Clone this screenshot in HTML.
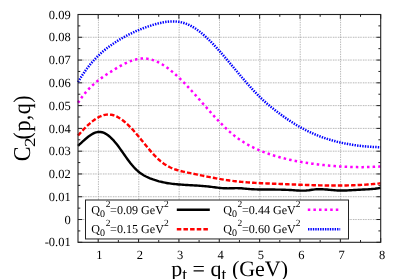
<!DOCTYPE html>
<html><head><meta charset="utf-8"><style>
html,body{margin:0;padding:0;background:#fff;}
svg{display:block;will-change:transform;}
text{font-family:"Liberation Serif",serif;fill:#000;text-rendering:geometricPrecision;}
.gh{stroke:#9a9a9a;stroke-width:0.7;stroke-dasharray:1.3 0.55 0.9 0.55 0.9 0.8;}
.gv{stroke:#9a9a9a;stroke-width:0.7;stroke-dasharray:1.4 1.05;}
.t{stroke:#222;stroke-width:1;}
.tl{font-size:12.5px;}
.lg{font-size:12.1px;}

</style></head><body>
<svg width="399" height="279" viewBox="0 0 399 279">
<rect width="399" height="279" fill="#fff"/>
<line x1="98.43" y1="14.50" x2="98.43" y2="242.30" class="gv"/>
<line x1="138.79" y1="14.50" x2="138.79" y2="242.30" class="gv"/>
<line x1="179.15" y1="14.50" x2="179.15" y2="242.30" class="gv"/>
<line x1="219.51" y1="14.50" x2="219.51" y2="242.30" class="gv"/>
<line x1="259.87" y1="14.50" x2="259.87" y2="242.30" class="gv"/>
<line x1="300.23" y1="14.50" x2="300.23" y2="242.30" class="gv"/>
<line x1="340.59" y1="14.50" x2="340.59" y2="242.30" class="gv"/>
<line x1="78.00" y1="37.28" x2="380.70" y2="37.28" class="gh"/>
<line x1="78.00" y1="60.06" x2="380.70" y2="60.06" class="gh"/>
<line x1="78.00" y1="82.84" x2="380.70" y2="82.84" class="gh"/>
<line x1="78.00" y1="105.62" x2="380.70" y2="105.62" class="gh"/>
<line x1="78.00" y1="128.40" x2="380.70" y2="128.40" class="gh"/>
<line x1="78.00" y1="151.18" x2="380.70" y2="151.18" class="gh"/>
<line x1="78.00" y1="173.96" x2="380.70" y2="173.96" class="gh"/>
<line x1="78.00" y1="196.74" x2="380.70" y2="196.74" class="gh"/>
<line x1="78.00" y1="219.52" x2="380.70" y2="219.52" class="gh"/>
<line x1="98.18" y1="242.30" x2="98.18" y2="238.00" class="t"/>
<line x1="98.18" y1="14.50" x2="98.18" y2="18.80" class="t"/>
<line x1="138.54" y1="242.30" x2="138.54" y2="238.00" class="t"/>
<line x1="138.54" y1="14.50" x2="138.54" y2="18.80" class="t"/>
<line x1="178.90" y1="242.30" x2="178.90" y2="238.00" class="t"/>
<line x1="178.90" y1="14.50" x2="178.90" y2="18.80" class="t"/>
<line x1="219.26" y1="242.30" x2="219.26" y2="238.00" class="t"/>
<line x1="219.26" y1="14.50" x2="219.26" y2="18.80" class="t"/>
<line x1="259.62" y1="242.30" x2="259.62" y2="238.00" class="t"/>
<line x1="259.62" y1="14.50" x2="259.62" y2="18.80" class="t"/>
<line x1="299.98" y1="242.30" x2="299.98" y2="238.00" class="t"/>
<line x1="299.98" y1="14.50" x2="299.98" y2="18.80" class="t"/>
<line x1="340.34" y1="242.30" x2="340.34" y2="238.00" class="t"/>
<line x1="340.34" y1="14.50" x2="340.34" y2="18.80" class="t"/>
<line x1="380.70" y1="242.30" x2="380.70" y2="238.00" class="t"/>
<line x1="380.70" y1="14.50" x2="380.70" y2="18.80" class="t"/>
<line x1="118.36" y1="242.30" x2="118.36" y2="240.00" class="t"/>
<line x1="118.36" y1="14.50" x2="118.36" y2="16.80" class="t"/>
<line x1="158.72" y1="242.30" x2="158.72" y2="240.00" class="t"/>
<line x1="158.72" y1="14.50" x2="158.72" y2="16.80" class="t"/>
<line x1="199.08" y1="242.30" x2="199.08" y2="240.00" class="t"/>
<line x1="199.08" y1="14.50" x2="199.08" y2="16.80" class="t"/>
<line x1="239.44" y1="242.30" x2="239.44" y2="240.00" class="t"/>
<line x1="239.44" y1="14.50" x2="239.44" y2="16.80" class="t"/>
<line x1="279.80" y1="242.30" x2="279.80" y2="240.00" class="t"/>
<line x1="279.80" y1="14.50" x2="279.80" y2="16.80" class="t"/>
<line x1="320.16" y1="242.30" x2="320.16" y2="240.00" class="t"/>
<line x1="320.16" y1="14.50" x2="320.16" y2="16.80" class="t"/>
<line x1="360.52" y1="242.30" x2="360.52" y2="240.00" class="t"/>
<line x1="360.52" y1="14.50" x2="360.52" y2="16.80" class="t"/>
<line x1="78.00" y1="14.50" x2="82.30" y2="14.50" class="t"/>
<line x1="380.70" y1="14.50" x2="376.40" y2="14.50" class="t"/>
<line x1="78.00" y1="25.89" x2="80.30" y2="25.89" class="t"/>
<line x1="380.70" y1="25.89" x2="378.40" y2="25.89" class="t"/>
<line x1="78.00" y1="37.28" x2="82.30" y2="37.28" class="t"/>
<line x1="380.70" y1="37.28" x2="376.40" y2="37.28" class="t"/>
<line x1="78.00" y1="48.67" x2="80.30" y2="48.67" class="t"/>
<line x1="380.70" y1="48.67" x2="378.40" y2="48.67" class="t"/>
<line x1="78.00" y1="60.06" x2="82.30" y2="60.06" class="t"/>
<line x1="380.70" y1="60.06" x2="376.40" y2="60.06" class="t"/>
<line x1="78.00" y1="71.45" x2="80.30" y2="71.45" class="t"/>
<line x1="380.70" y1="71.45" x2="378.40" y2="71.45" class="t"/>
<line x1="78.00" y1="82.84" x2="82.30" y2="82.84" class="t"/>
<line x1="380.70" y1="82.84" x2="376.40" y2="82.84" class="t"/>
<line x1="78.00" y1="94.23" x2="80.30" y2="94.23" class="t"/>
<line x1="380.70" y1="94.23" x2="378.40" y2="94.23" class="t"/>
<line x1="78.00" y1="105.62" x2="82.30" y2="105.62" class="t"/>
<line x1="380.70" y1="105.62" x2="376.40" y2="105.62" class="t"/>
<line x1="78.00" y1="117.01" x2="80.30" y2="117.01" class="t"/>
<line x1="380.70" y1="117.01" x2="378.40" y2="117.01" class="t"/>
<line x1="78.00" y1="128.40" x2="82.30" y2="128.40" class="t"/>
<line x1="380.70" y1="128.40" x2="376.40" y2="128.40" class="t"/>
<line x1="78.00" y1="139.79" x2="80.30" y2="139.79" class="t"/>
<line x1="380.70" y1="139.79" x2="378.40" y2="139.79" class="t"/>
<line x1="78.00" y1="151.18" x2="82.30" y2="151.18" class="t"/>
<line x1="380.70" y1="151.18" x2="376.40" y2="151.18" class="t"/>
<line x1="78.00" y1="162.57" x2="80.30" y2="162.57" class="t"/>
<line x1="380.70" y1="162.57" x2="378.40" y2="162.57" class="t"/>
<line x1="78.00" y1="173.96" x2="82.30" y2="173.96" class="t"/>
<line x1="380.70" y1="173.96" x2="376.40" y2="173.96" class="t"/>
<line x1="78.00" y1="185.35" x2="80.30" y2="185.35" class="t"/>
<line x1="380.70" y1="185.35" x2="378.40" y2="185.35" class="t"/>
<line x1="78.00" y1="196.74" x2="82.30" y2="196.74" class="t"/>
<line x1="380.70" y1="196.74" x2="376.40" y2="196.74" class="t"/>
<line x1="78.00" y1="208.13" x2="80.30" y2="208.13" class="t"/>
<line x1="380.70" y1="208.13" x2="378.40" y2="208.13" class="t"/>
<line x1="78.00" y1="219.52" x2="82.30" y2="219.52" class="t"/>
<line x1="380.70" y1="219.52" x2="376.40" y2="219.52" class="t"/>
<line x1="78.00" y1="230.91" x2="80.30" y2="230.91" class="t"/>
<line x1="380.70" y1="230.91" x2="378.40" y2="230.91" class="t"/>
<line x1="78.00" y1="242.30" x2="82.30" y2="242.30" class="t"/>
<line x1="380.70" y1="242.30" x2="376.40" y2="242.30" class="t"/>
<path d="M78.00,82.05 L79.50,79.57 L81.00,77.19 L82.50,74.90 L84.00,72.70 L85.50,70.59 L87.00,68.56 L88.50,66.61 L90.00,64.75 L91.50,62.95 L93.00,61.24 L94.50,59.59 L96.00,58.00 L97.50,56.48 L99.00,55.03 L100.50,53.63 L102.00,52.28 L103.50,50.99 L105.00,49.75 L106.50,48.55 L108.00,47.40 L109.50,46.28 L111.00,45.21 L112.50,44.17 L114.00,43.16 L115.50,42.18 L117.00,41.23 L118.50,40.30 L120.00,39.40 L121.50,38.52 L123.00,37.66 L124.50,36.83 L126.00,36.02 L127.50,35.24 L129.00,34.47 L130.50,33.73 L132.00,33.01 L133.50,32.31 L135.00,31.63 L136.50,30.97 L138.00,30.33 L139.50,29.71 L141.00,29.11 L142.50,28.52 L144.00,27.96 L145.50,27.41 L147.00,26.88 L148.50,26.36 L150.00,25.87 L151.50,25.39 L153.00,24.92 L154.50,24.47 L156.00,24.05 L157.50,23.64 L159.00,23.26 L160.50,22.91 L162.00,22.59 L163.50,22.31 L165.00,22.06 L166.50,21.84 L168.00,21.67 L169.50,21.54 L171.00,21.46 L172.50,21.42 L174.00,21.44 L175.50,21.51 L177.00,21.63 L178.50,21.82 L180.00,22.06 L181.50,22.37 L183.00,22.74 L184.50,23.18 L186.00,23.69 L187.50,24.28 L189.00,24.94 L190.50,25.68 L192.00,26.49 L193.50,27.36 L195.00,28.31 L196.50,29.32 L198.00,30.39 L199.50,31.52 L201.00,32.71 L202.50,33.96 L204.00,35.25 L205.50,36.59 L207.00,37.98 L208.50,39.42 L210.00,40.89 L211.50,42.40 L213.00,43.95 L214.50,45.53 L216.00,47.15 L217.50,48.79 L219.00,50.45 L220.50,52.14 L222.00,53.85 L223.50,55.58 L225.00,57.32 L226.50,59.08 L228.00,60.84 L229.50,62.62 L231.00,64.40 L232.50,66.19 L234.00,67.97 L235.50,69.76 L237.00,71.55 L238.50,73.33 L240.00,75.11 L241.50,76.88 L243.00,78.64 L244.50,80.38 L246.00,82.11 L247.50,83.83 L249.00,85.52 L250.50,87.19 L252.00,88.84 L253.50,90.47 L255.00,92.06 L256.50,93.63 L258.00,95.16 L259.50,96.66 L261.00,98.13 L262.50,99.55 L264.00,100.94 L265.50,102.28 L267.00,103.60 L268.50,104.88 L270.00,106.13 L271.50,107.35 L273.00,108.55 L274.50,109.73 L276.00,110.90 L277.50,112.04 L279.00,113.17 L280.50,114.29 L282.00,115.39 L283.50,116.47 L285.00,117.54 L286.50,118.58 L288.00,119.61 L289.50,120.62 L291.00,121.61 L292.50,122.57 L294.00,123.52 L295.50,124.44 L297.00,125.34 L298.50,126.22 L300.00,127.07 L301.50,127.90 L303.00,128.71 L304.50,129.49 L306.00,130.26 L307.50,131.00 L309.00,131.72 L310.50,132.43 L312.00,133.11 L313.50,133.77 L315.00,134.41 L316.50,135.03 L318.00,135.63 L319.50,136.22 L321.00,136.78 L322.50,137.33 L324.00,137.86 L325.50,138.37 L327.00,138.86 L328.50,139.34 L330.00,139.79 L331.50,140.23 L333.00,140.66 L334.50,141.07 L336.00,141.46 L337.50,141.84 L339.00,142.20 L340.50,142.55 L342.00,142.88 L343.50,143.20 L345.00,143.50 L346.50,143.79 L348.00,144.07 L349.50,144.33 L351.00,144.58 L352.50,144.82 L354.00,145.04 L355.50,145.26 L357.00,145.46 L358.50,145.65 L360.00,145.82 L361.50,145.99 L363.00,146.15 L364.50,146.29 L366.00,146.43 L367.50,146.55 L369.00,146.67 L370.50,146.78 L372.00,146.87 L373.50,146.96 L375.00,147.04 L376.50,147.11 L378.00,147.18 L379.50,147.23 L380.70,147.27" fill="none" stroke="#0000ff" stroke-width="2.5" stroke-dasharray="1.4 1.2"/>
<path d="M78.00,102.81 L79.50,100.55 L81.00,98.41 L82.50,96.38 L84.00,94.45 L85.50,92.63 L87.00,90.90 L88.50,89.26 L90.00,87.71 L91.50,86.23 L93.00,84.83 L94.50,83.49 L96.00,82.22 L97.50,81.00 L99.00,79.83 L100.50,78.71 L102.00,77.62 L103.50,76.57 L105.00,75.55 L106.50,74.55 L108.00,73.57 L109.50,72.60 L111.00,71.64 L112.50,70.68 L114.00,69.74 L115.50,68.82 L117.00,67.91 L118.50,67.03 L120.00,66.17 L121.50,65.34 L123.00,64.54 L124.50,63.78 L126.00,63.06 L127.50,62.37 L129.00,61.73 L130.50,61.14 L132.00,60.60 L133.50,60.12 L135.00,59.69 L136.50,59.32 L138.00,59.01 L139.50,58.78 L141.00,58.61 L142.50,58.51 L144.00,58.49 L145.50,58.55 L147.00,58.70 L148.50,58.92 L150.00,59.23 L151.50,59.61 L153.00,60.07 L154.50,60.60 L156.00,61.20 L157.50,61.87 L159.00,62.61 L160.50,63.41 L162.00,64.28 L163.50,65.20 L165.00,66.19 L166.50,67.22 L168.00,68.32 L169.50,69.46 L171.00,70.65 L172.50,71.89 L174.00,73.17 L175.50,74.50 L177.00,75.86 L178.50,77.27 L180.00,78.71 L181.50,80.18 L183.00,81.68 L184.50,83.22 L186.00,84.78 L187.50,86.36 L189.00,87.97 L190.50,89.59 L192.00,91.24 L193.50,92.90 L195.00,94.57 L196.50,96.26 L198.00,97.95 L199.50,99.66 L201.00,101.36 L202.50,103.07 L204.00,104.78 L205.50,106.49 L207.00,108.19 L208.50,109.89 L210.00,111.58 L211.50,113.25 L213.00,114.91 L214.50,116.56 L216.00,118.19 L217.50,119.79 L219.00,121.38 L220.50,122.93 L222.00,124.46 L223.50,125.96 L225.00,127.43 L226.50,128.86 L228.00,130.25 L229.50,131.60 L231.00,132.91 L232.50,134.17 L234.00,135.39 L235.50,136.56 L237.00,137.69 L238.50,138.78 L240.00,139.82 L241.50,140.83 L243.00,141.80 L244.50,142.73 L246.00,143.62 L247.50,144.49 L249.00,145.32 L250.50,146.11 L252.00,146.88 L253.50,147.62 L255.00,148.33 L256.50,149.02 L258.00,149.68 L259.50,150.32 L261.00,150.94 L262.50,151.54 L264.00,152.12 L265.50,152.68 L267.00,153.23 L268.50,153.76 L270.00,154.27 L271.50,154.77 L273.00,155.26 L274.50,155.73 L276.00,156.18 L277.50,156.62 L279.00,157.05 L280.50,157.46 L282.00,157.86 L283.50,158.25 L285.00,158.62 L286.50,158.99 L288.00,159.34 L289.50,159.68 L291.00,160.01 L292.50,160.33 L294.00,160.64 L295.50,160.93 L297.00,161.22 L298.50,161.50 L300.00,161.77 L301.50,162.03 L303.00,162.28 L304.50,162.53 L306.00,162.76 L307.50,162.99 L309.00,163.21 L310.50,163.43 L312.00,163.64 L313.50,163.84 L315.00,164.04 L316.50,164.23 L318.00,164.42 L319.50,164.60 L321.00,164.77 L322.50,164.94 L324.00,165.10 L325.50,165.26 L327.00,165.41 L328.50,165.56 L330.00,165.70 L331.50,165.83 L333.00,165.96 L334.50,166.08 L336.00,166.19 L337.50,166.30 L339.00,166.41 L340.50,166.50 L342.00,166.59 L343.50,166.67 L345.00,166.75 L346.50,166.82 L348.00,166.88 L349.50,166.94 L351.00,166.99 L352.50,167.03 L354.00,167.07 L355.50,167.10 L357.00,167.12 L358.50,167.13 L360.00,167.14 L361.50,167.14 L363.00,167.13 L364.50,167.12 L366.00,167.09 L367.50,167.06 L369.00,167.03 L370.50,166.98 L372.00,166.93 L373.50,166.87 L375.00,166.80 L376.50,166.72 L378.00,166.64 L379.50,166.55 L380.70,166.47" fill="none" stroke="#ff00ff" stroke-width="2.5" stroke-dasharray="2.5 3.1"/>
<path d="M78.00,135.55 L79.50,133.86 L81.00,132.21 L82.50,130.59 L84.00,129.02 L85.50,127.50 L87.00,126.04 L88.50,124.64 L90.00,123.31 L91.50,122.04 L93.00,120.86 L94.50,119.76 L96.00,118.74 L97.50,117.83 L99.00,117.01 L100.50,116.29 L102.00,115.69 L103.50,115.20 L105.00,114.83 L106.50,114.59 L108.00,114.49 L109.50,114.52 L111.00,114.69 L112.50,114.99 L114.00,115.43 L115.50,116.00 L117.00,116.68 L118.50,117.48 L120.00,118.39 L121.50,119.40 L123.00,120.51 L124.50,121.71 L126.00,123.00 L127.50,124.36 L129.00,125.81 L130.50,127.32 L132.00,128.90 L133.50,130.54 L135.00,132.22 L136.50,133.96 L138.00,135.74 L139.50,137.55 L141.00,139.39 L142.50,141.24 L144.00,143.10 L145.50,144.95 L147.00,146.79 L148.50,148.60 L150.00,150.38 L151.50,152.11 L153.00,153.78 L154.50,155.39 L156.00,156.93 L157.50,158.39 L159.00,159.78 L160.50,161.08 L162.00,162.29 L163.50,163.41 L165.00,164.44 L166.50,165.38 L168.00,166.24 L169.50,167.02 L171.00,167.74 L172.50,168.39 L174.00,168.98 L175.50,169.51 L177.00,170.00 L178.50,170.45 L180.00,170.86 L181.50,171.24 L183.00,171.59 L184.50,171.93 L186.00,172.25 L187.50,172.56 L189.00,172.87 L190.50,173.18 L192.00,173.49 L193.50,173.80 L195.00,174.11 L196.50,174.43 L198.00,174.74 L199.50,175.05 L201.00,175.36 L202.50,175.67 L204.00,175.98 L205.50,176.28 L207.00,176.59 L208.50,176.88 L210.00,177.18 L211.50,177.47 L213.00,177.76 L214.50,178.04 L216.00,178.32 L217.50,178.59 L219.00,178.85 L220.50,179.11 L222.00,179.36 L223.50,179.61 L225.00,179.85 L226.50,180.07 L228.00,180.29 L229.50,180.51 L231.00,180.71 L232.50,180.90 L234.00,181.08 L235.50,181.26 L237.00,181.43 L238.50,181.58 L240.00,181.73 L241.50,181.88 L243.00,182.01 L244.50,182.14 L246.00,182.26 L247.50,182.38 L249.00,182.49 L250.50,182.60 L252.00,182.70 L253.50,182.79 L255.00,182.88 L256.50,182.96 L258.00,183.05 L259.50,183.12 L261.00,183.20 L262.50,183.27 L264.00,183.33 L265.50,183.40 L267.00,183.46 L268.50,183.52 L270.00,183.58 L271.50,183.64 L273.00,183.70 L274.50,183.75 L276.00,183.81 L277.50,183.87 L279.00,183.92 L280.50,183.98 L282.00,184.04 L283.50,184.09 L285.00,184.15 L286.50,184.21 L288.00,184.27 L289.50,184.33 L291.00,184.39 L292.50,184.45 L294.00,184.51 L295.50,184.56 L297.00,184.62 L298.50,184.68 L300.00,184.73 L301.50,184.79 L303.00,184.84 L304.50,184.90 L306.00,184.95 L307.50,185.00 L309.00,185.05 L310.50,185.10 L312.00,185.14 L313.50,185.19 L315.00,185.23 L316.50,185.27 L318.00,185.31 L319.50,185.34 L321.00,185.38 L322.50,185.41 L324.00,185.43 L325.50,185.46 L327.00,185.48 L328.50,185.50 L330.00,185.52 L331.50,185.53 L333.00,185.54 L334.50,185.54 L336.00,185.54 L337.50,185.54 L339.00,185.53 L340.50,185.52 L342.00,185.51 L343.50,185.49 L345.00,185.47 L346.50,185.44 L348.00,185.41 L349.50,185.37 L351.00,185.33 L352.50,185.28 L354.00,185.23 L355.50,185.17 L357.00,185.10 L358.50,185.03 L360.00,184.96 L361.50,184.88 L363.00,184.79 L364.50,184.70 L366.00,184.60 L367.50,184.50 L369.00,184.38 L370.50,184.27 L372.00,184.14 L373.50,184.01 L375.00,183.87 L376.50,183.73 L378.00,183.57 L379.50,183.41 L380.70,183.28" fill="none" stroke="#ff0000" stroke-width="2.4" stroke-dasharray="4.5 2.1"/>
<path d="M78.00,145.89 L79.50,144.49 L81.00,143.07 L82.50,141.68 L84.00,140.30 L85.50,138.98 L87.00,137.72 L88.50,136.53 L90.00,135.45 L91.50,134.47 L93.00,133.63 L94.50,132.94 L96.00,132.41 L97.50,132.06 L99.00,131.91 L100.50,131.97 L102.00,132.24 L103.50,132.71 L105.00,133.37 L106.50,134.22 L108.00,135.25 L109.50,136.44 L111.00,137.78 L112.50,139.28 L114.00,140.92 L115.50,142.70 L117.00,144.59 L118.50,146.57 L120.00,148.63 L121.50,150.74 L123.00,152.88 L124.50,155.03 L126.00,157.15 L127.50,159.24 L129.00,161.27 L130.50,163.21 L132.00,165.04 L133.50,166.76 L135.00,168.37 L136.50,169.85 L138.00,171.22 L139.50,172.46 L141.00,173.58 L142.50,174.57 L144.00,175.45 L145.50,176.24 L147.00,176.96 L148.50,177.64 L150.00,178.28 L151.50,178.87 L153.00,179.43 L154.50,179.95 L156.00,180.43 L157.50,180.88 L159.00,181.30 L160.50,181.68 L162.00,182.04 L163.50,182.37 L165.00,182.67 L166.50,182.95 L168.00,183.20 L169.50,183.43 L171.00,183.64 L172.50,183.83 L174.00,184.01 L175.50,184.16 L177.00,184.31 L178.50,184.44 L180.00,184.56 L181.50,184.66 L183.00,184.76 L184.50,184.86 L186.00,184.95 L187.50,185.03 L189.00,185.11 L190.50,185.19 L192.00,185.27 L193.50,185.36 L195.00,185.44 L196.50,185.53 L198.00,185.63 L199.50,185.73 L201.00,185.84 L202.50,185.96 L204.00,186.09 L205.50,186.23 L207.00,186.38 L208.50,186.54 L210.00,186.71 L211.50,186.90 L213.00,187.09 L214.50,187.29 L216.00,187.48 L217.50,187.66 L219.00,187.83 L220.50,187.99 L222.00,188.12 L223.50,188.22 L225.00,188.29 L226.50,188.32 L228.00,188.33 L229.50,188.31 L231.00,188.27 L232.50,188.23 L234.00,188.19 L235.50,188.17 L237.00,188.16 L238.50,188.18 L240.00,188.23 L241.50,188.32 L243.00,188.45 L244.50,188.60 L246.00,188.75 L247.50,188.90 L249.00,189.02 L250.50,189.13 L252.00,189.23 L253.50,189.30 L255.00,189.36 L256.50,189.41 L258.00,189.45 L259.50,189.48 L261.00,189.50 L262.50,189.51 L264.00,189.52 L265.50,189.53 L267.00,189.53 L268.50,189.53 L270.00,189.54 L271.50,189.54 L273.00,189.55 L274.50,189.57 L276.00,189.58 L277.50,189.61 L279.00,189.63 L280.50,189.66 L282.00,189.70 L283.50,189.74 L285.00,189.79 L286.50,189.85 L288.00,189.91 L289.50,189.99 L291.00,190.06 L292.50,190.15 L294.00,190.25 L295.50,190.35 L297.00,190.44 L298.50,190.52 L300.00,190.58 L301.50,190.62 L303.00,190.63 L304.50,190.61 L306.00,190.53 L307.50,190.41 L309.00,190.24 L310.50,190.03 L312.00,189.80 L313.50,189.59 L315.00,189.41 L316.50,189.28 L318.00,189.21 L319.50,189.19 L321.00,189.20 L322.50,189.26 L324.00,189.34 L325.50,189.44 L327.00,189.57 L328.50,189.71 L330.00,189.85 L331.50,189.99 L333.00,190.13 L334.50,190.26 L336.00,190.37 L337.50,190.45 L339.00,190.51 L340.50,190.55 L342.00,190.55 L343.50,190.54 L345.00,190.51 L346.50,190.46 L348.00,190.39 L349.50,190.32 L351.00,190.23 L352.50,190.14 L354.00,190.05 L355.50,189.96 L357.00,189.86 L358.50,189.78 L360.00,189.69 L361.50,189.62 L363.00,189.56 L364.50,189.49 L366.00,189.42 L367.50,189.35 L369.00,189.26 L370.50,189.16 L372.00,189.04 L373.50,188.89 L375.00,188.72 L376.50,188.51 L378.00,188.27 L379.50,187.98 L380.70,187.71" fill="none" stroke="#000000" stroke-width="2.4" stroke-linejoin="round"/>
<rect x="85.5" y="200" width="263" height="38.95" fill="#fff" stroke="#222" stroke-width="1"/>
<line x1="176.8" y1="209.8" x2="209.8" y2="209.8" stroke="#000" stroke-width="2.4"/>
<line x1="176.8" y1="229.3" x2="209.1" y2="229.3" stroke="#f00" stroke-width="2.5" stroke-dasharray="4.5 2.15"/>
<line x1="307.8" y1="209.7" x2="340.4" y2="209.7" stroke="#f0f" stroke-width="2.5" stroke-dasharray="2.5 3.1"/>
<line x1="308" y1="229.15" x2="340.2" y2="229.15" stroke="#00f" stroke-width="2.5" stroke-dasharray="1.4 1.02"/>
<rect x="78.00" y="14.50" width="302.70" height="227.80" fill="none" stroke="#222" stroke-width="1.1"/>
<text x="70.7" y="18.60" text-anchor="end" class="tl">0.09</text>
<text x="70.7" y="41.38" text-anchor="end" class="tl">0.08</text>
<text x="70.7" y="64.16" text-anchor="end" class="tl">0.07</text>
<text x="70.7" y="86.94" text-anchor="end" class="tl">0.06</text>
<text x="70.7" y="109.72" text-anchor="end" class="tl">0.05</text>
<text x="70.7" y="132.50" text-anchor="end" class="tl">0.04</text>
<text x="70.7" y="155.28" text-anchor="end" class="tl">0.03</text>
<text x="70.7" y="178.06" text-anchor="end" class="tl">0.02</text>
<text x="70.7" y="200.84" text-anchor="end" class="tl">0.01</text>
<text x="70.7" y="223.62" text-anchor="end" class="tl">0</text>
<text x="70.7" y="246.40" text-anchor="end" class="tl">-0.01</text>
<text x="99.48" y="259.2" text-anchor="middle" class="tl">1</text>
<text x="139.84" y="259.2" text-anchor="middle" class="tl">2</text>
<text x="180.20" y="259.2" text-anchor="middle" class="tl">3</text>
<text x="220.56" y="259.2" text-anchor="middle" class="tl">4</text>
<text x="260.92" y="259.2" text-anchor="middle" class="tl">5</text>
<text x="301.28" y="259.2" text-anchor="middle" class="tl">6</text>
<text x="341.64" y="259.2" text-anchor="middle" class="tl">7</text>
<text x="382.00" y="259.2" text-anchor="middle" class="tl">8</text>
<text x="91.3" y="214" class="lg">Q<tspan dy="3" font-size="10">0</tspan><tspan dy="-10" dx="0.6" font-size="9.5">2</tspan><tspan dy="7" dx="-0.3">=0.09 GeV</tspan><tspan dy="-7" font-size="9.5">2</tspan></text>
<text x="91.3" y="233" class="lg">Q<tspan dy="3" font-size="10">0</tspan><tspan dy="-10" dx="0.6" font-size="9.5">2</tspan><tspan dy="7" dx="-0.3">=0.15 GeV</tspan><tspan dy="-7" font-size="9.5">2</tspan></text>
<text x="223.2" y="214" class="lg">Q<tspan dy="3" font-size="10">0</tspan><tspan dy="-10" dx="0.6" font-size="9.5">2</tspan><tspan dy="7" dx="-0.3">=0.44 GeV</tspan><tspan dy="-7" font-size="9.5">2</tspan></text>
<text x="223.2" y="233" class="lg">Q<tspan dy="3" font-size="10">0</tspan><tspan dy="-10" dx="0.6" font-size="9.5">2</tspan><tspan dy="7" dx="-0.3">=0.60 GeV</tspan><tspan dy="-7" font-size="9.5">2</tspan></text>
<text x="171.2" y="275.6" font-size="22">p<tspan dy="4.8" font-size="17.6">t</tspan><tspan dy="-4.8"> = q</tspan><tspan dy="4.8" font-size="17.6">t</tspan><tspan dy="-4.8"> (GeV)</tspan></text>
<text transform="translate(30.4,161.2) rotate(-90) scale(1,1.1)" font-size="22">C</text>
<text transform="translate(35.2,147.1) rotate(-90) scale(1.1,0.89)" font-size="17.3">2</text>
<text transform="translate(30.4,139.4) rotate(-90) scale(1,1.1)" font-size="22" letter-spacing="0.45">(p,q)</text>
</svg>
</body></html>
